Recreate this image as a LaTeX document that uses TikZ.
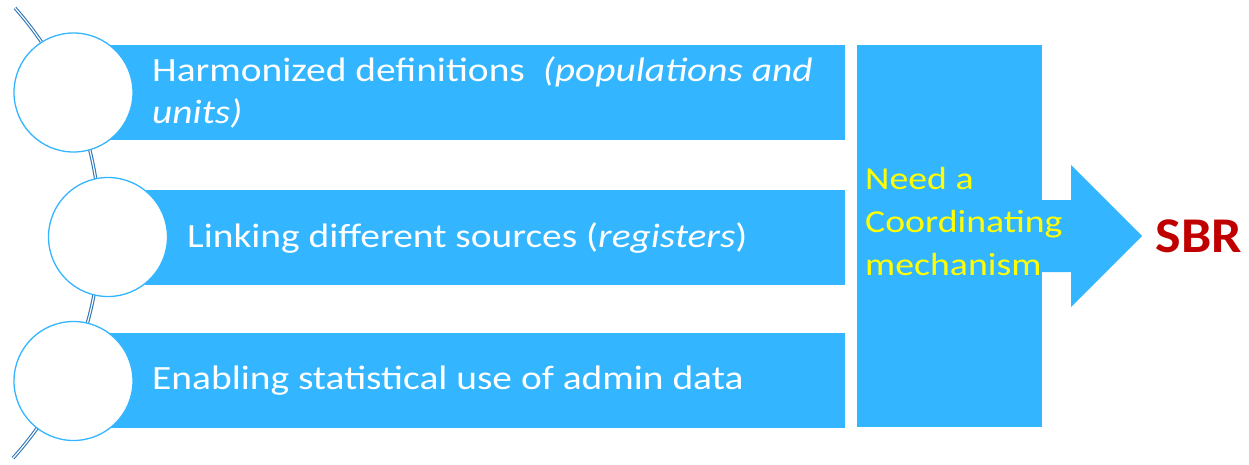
\documentclass[tikz,border=0pt]{standalone}
\usepackage{fontspec}
\setmainfont{Carlito}[FakeStretch=1.16]
\usetikzlibrary{positioning}
\definecolor{barblue}{RGB}{51,182,255}
\definecolor{arcblue}{RGB}{46,117,182}
\definecolor{sbrred}{RGB}{192,0,0}
\definecolor{notice}{RGB}{255,255,0}
\tikzset{x=1pt,y=-1pt,
	bar/.style={fill=barblue, draw=none, anchor=north west, minimum width=735pt,
		minimum height=95pt},
	bartext/.style={anchor=west, align=left, inner sep=0pt, text=white,
		font=\fontsize{34}{42}\selectfont},
	bead/.style={circle, draw=barblue, line width=1.3pt, fill=white,
		minimum size=119pt, inner sep=0pt},
	spine/.style={draw=arcblue, double=white, double distance=1.2pt, line width=1.1pt}}

\begin{document}
\begin{tikzpicture}
	\useasboundingbox (0,0) rectangle (1249,465);
	% spine behind the beads
	\draw[spine] (15,8) arc[start angle=-41.5, end angle=42, radius=338];
	% the three bars
	\node[bar] (harm) at (110,45) {};
	\node[bar, minimum width=700pt] (link) at (145,190) {};
	\node[bar] (enab) at (110,333) {};
	\node[bartext] (harmtxt) at ([xshift=42pt]harm.west) {Harmonized definitions \ \textit{(populations and}\\\textit{units)}};
	\node[bartext] (linktxt) at ([xshift=42pt]link.west) {Linking different sources (\textit{registers})};
	\node[bartext] (enabtxt) at ([xshift=42pt]enab.west) {Enabling statistical use of admin data};
	% beads
	\node[bead] (beadA) at (73.5,92.5) {};
	\node[bead] (beadB) at (108,237) {};
	\node[bead] (beadC) at (73.5,381) {};
	% coordinating box and arrow
	\fill[barblue] (1030,200) -- (1071,200) -- (1071,165) -- (1142,236)
		-- (1071,307) -- (1071,272) -- (1030,272) -- cycle;
	\node[fill=barblue, anchor=north west, minimum width=185pt, minimum height=382pt] (coord) at (857,45) {};
	\node[anchor=west, align=left, text=notice, inner sep=0pt,
		font=\fontsize{32}{43}\selectfont\addfontfeature{FakeStretch=1.18}] (need) at (865,222)
		{Need a\\Coordinating\\mechanism};
	\node[text=sbrred, font=\fontsize{50}{60}\selectfont\bfseries\addfontfeature{FakeStretch=1.08}] (sbr) at (1199,236) {SBR};
\end{tikzpicture}
\end{document}
